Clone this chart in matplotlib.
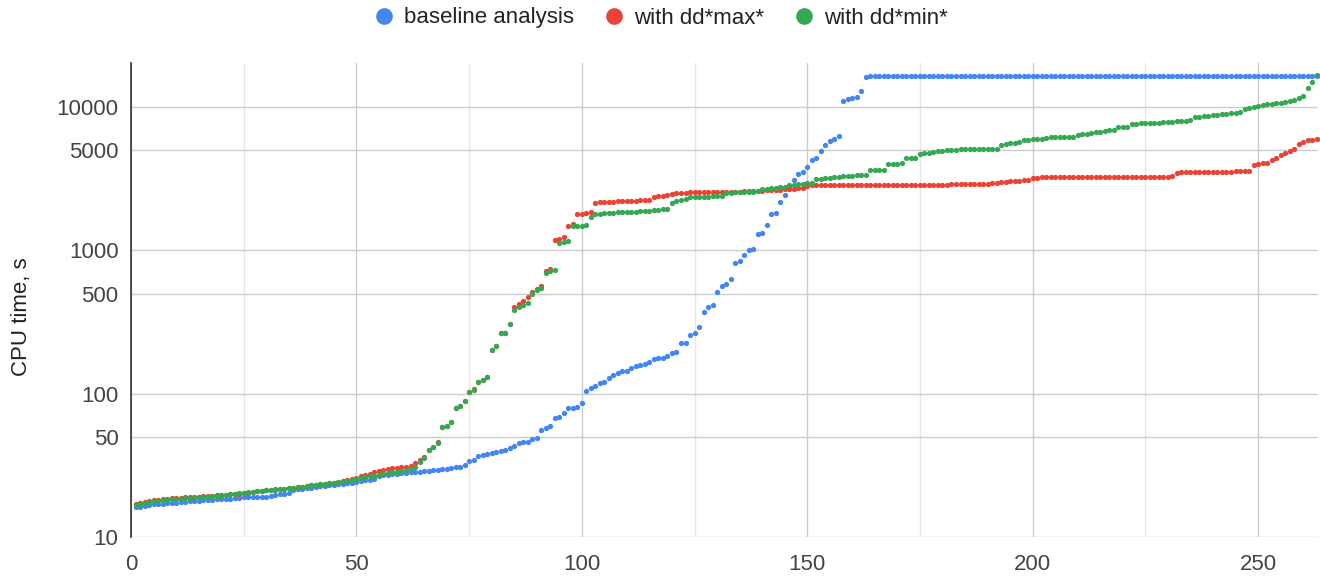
import matplotlib
matplotlib.use("Agg")
import matplotlib.pyplot as plt
from matplotlib.lines import Line2D
from matplotlib.ticker import FixedLocator, NullLocator

plt.rcParams['font.family'] = ['Liberation Sans', 'DejaVu Sans']

# CPU time (s) per instance, sorted, one list per configuration
baseline = [
    16.1, 16.3, 16.5, 16.7, 16.9, 17.0, 17.1, 17.2, 17.3, 17.4,
    17.5, 17.6, 17.7, 17.8, 17.9, 18.0, 18.1, 18.2, 18.3, 18.3,
    18.4, 18.5, 18.6, 18.7, 18.9, 18.9, 19.0, 19.0, 19.1, 19.1,
    19.3, 19.5, 19.8, 20.0, 20.2, 21.3, 21.5, 21.7, 21.9, 22.1,
    22.3, 22.6, 22.8, 23.0, 23.1, 23.3, 23.5, 23.7, 23.9, 24.2,
    24.5, 24.8, 25.1, 25.5, 26.5, 27.0, 27.2, 27.4, 27.6, 27.8,
    28.0, 28.2, 28.4, 28.6, 28.8, 29.0, 29.2, 29.4, 29.6, 29.9,
    30.2, 30.6, 31.0, 31.7, 33.9, 34.4, 36.7, 37.3, 38.0, 38.8,
    39.3, 39.8, 40.4, 41.6, 43.4, 45.1, 45.8, 46.2, 48.1, 49.3,
    55.8, 57.3, 59.5, 67.3, 69.1, 73.0, 79.0, 79.5, 81.0, 86.5,
    105, 109, 114, 118, 121, 128, 135, 140, 143, 145,
    150, 156, 158, 161, 167, 174, 177, 178, 183, 191,
    196, 225, 227, 257, 264, 294, 374, 405, 416, 511,
    564, 580, 627, 820, 844, 929, 1007, 1019, 1294, 1324,
    1503, 1795, 1833, 2190, 2450, 2750, 3100, 3400, 3540, 3840,
    4270, 4430, 4970, 5450, 5830, 5970, 6300, 11100, 11400, 11520,
    11700, 13000, 16100, 16500, 16500, 16500, 16500, 16500, 16500, 16500,
    16500, 16500, 16500, 16500, 16500, 16500, 16500, 16500, 16500, 16500,
    16500, 16500, 16500, 16500, 16500, 16500, 16500, 16500, 16500, 16500,
    16500, 16500, 16500, 16500, 16500, 16500, 16500, 16500, 16500, 16500,
    16500, 16500, 16500, 16500, 16500, 16500, 16500, 16500, 16500, 16500,
    16500, 16500, 16500, 16500, 16500, 16500, 16500, 16500, 16500, 16500,
    16500, 16500, 16500, 16500, 16500, 16500, 16500, 16500, 16500, 16500,
    16500, 16500, 16500, 16500, 16500, 16500, 16500, 16500, 16500, 16500,
    16500, 16500, 16500, 16500, 16500, 16500, 16500, 16500, 16500, 16500,
    16500, 16500, 16500, 16500, 16500, 16500, 16500, 16500, 16500, 16500,
    16500, 16500, 16500,
]

dd_max = [
    17.0, 17.3, 17.6, 17.8, 18.0, 18.2, 18.4, 18.5, 18.6, 18.7,
    18.8, 18.9, 19.0, 19.0, 19.1, 19.2, 19.3, 19.4, 19.5, 19.6,
    19.7, 19.8, 19.9, 20.0, 20.2, 20.4, 20.6, 20.8, 21.0, 21.2,
    21.4, 21.5, 21.6, 21.7, 21.8, 22.0, 22.2, 22.4, 22.7, 23.0,
    23.2, 23.4, 23.6, 23.8, 24.0, 24.3, 24.7, 25.1, 25.5, 26.0,
    26.6, 27.1, 27.6, 28.2, 28.8, 29.4, 29.8, 30.1, 30.4, 30.7,
    31.0, 31.5, 32.7, 34.4, 36.0, 40.4, 42.7, 46.2, 58.9, 59.6,
    63.8, 79.0, 82.0, 89.0, 103, 107, 121, 125, 130, 202,
    215, 264, 267, 306, 400, 420, 440, 470, 510, 540,
    560, 720, 745, 1180, 1200, 1230, 1480, 1520, 1780, 1800,
    1820, 1850, 2150, 2160, 2170, 2180, 2190, 2200, 2200, 2210,
    2210, 2220, 2230, 2240, 2250, 2350, 2380, 2410, 2440, 2480,
    2500, 2530, 2530, 2540, 2540, 2540, 2550, 2550, 2550, 2560,
    2560, 2560, 2570, 2570, 2570, 2580, 2580, 2590, 2600, 2610,
    2620, 2630, 2640, 2650, 2660, 2680, 2690, 2710, 2720, 2800,
    2840, 2850, 2850, 2850, 2860, 2860, 2860, 2860, 2860, 2860,
    2860, 2860, 2860, 2865, 2865, 2865, 2870, 2870, 2870, 2870,
    2870, 2870, 2875, 2875, 2875, 2875, 2880, 2880, 2880, 2880,
    2880, 2885, 2885, 2885, 2890, 2890, 2890, 2900, 2900, 2920,
    2950, 2970, 2990, 3010, 3030, 3050, 3070, 3090, 3100, 3200,
    3220, 3230, 3230, 3240, 3240, 3240, 3240, 3240, 3240, 3240,
    3240, 3240, 3240, 3245, 3245, 3245, 3245, 3250, 3250, 3250,
    3250, 3250, 3250, 3255, 3255, 3255, 3255, 3260, 3260, 3260,
    3300, 3450, 3540, 3540, 3540, 3540, 3540, 3540, 3540, 3550,
    3550, 3550, 3550, 3550, 3560, 3560, 3560, 3580, 3950, 4000,
    4060, 4080, 4270, 4390, 4630, 4800, 4950, 5080, 5500, 5740,
    5850, 5920, 5960,
]

dd_min = [
    16.8, 17.0, 17.3, 17.5, 17.7, 17.9, 18.0, 18.2, 18.3, 18.4,
    18.5, 18.6, 18.7, 18.8, 18.9, 19.0, 19.1, 19.2, 19.3, 19.4,
    19.6, 19.8, 20.0, 20.2, 20.4, 20.5, 20.6, 20.8, 21.0, 21.2,
    21.3, 21.4, 21.5, 21.7, 21.9, 22.1, 22.3, 22.5, 22.7, 22.9,
    23.1, 23.3, 23.5, 23.7, 23.9, 24.1, 24.4, 24.7, 25.0, 25.3,
    25.7, 26.1, 26.5, 26.8, 27.1, 27.5, 27.9, 28.2, 28.6, 29.0,
    29.4, 30.0, 30.9, 33.5, 35.4, 40.4, 42.7, 45.5, 58.9, 59.6,
    63.8, 79.0, 82.0, 89.0, 103, 106, 121, 125, 130, 202,
    215, 264, 267, 306, 384, 400, 415, 428, 500, 530,
    550, 700, 720, 730, 1120, 1150, 1170, 1470, 1480, 1490,
    1500, 1720, 1780, 1800, 1820, 1830, 1830, 1840, 1840, 1850,
    1850, 1860, 1870, 1880, 1890, 1900, 1910, 1930, 1950, 2140,
    2200, 2260, 2300, 2340, 2360, 2365, 2370, 2375, 2380, 2385,
    2390, 2520, 2530, 2540, 2545, 2550, 2560, 2570, 2580, 2670,
    2690, 2720, 2740, 2770, 2790, 2860, 2880, 2900, 2920, 2940,
    2960, 3130, 3160, 3190, 3220, 3250, 3270, 3290, 3310, 3330,
    3350, 3360, 3370, 3640, 3640, 3650, 3660, 4010, 4020, 4030,
    4040, 4390, 4400, 4410, 4710, 4750, 4800, 4850, 4900, 4950,
    4980, 5020, 5050, 5060, 5070, 5080, 5080, 5090, 5100, 5100,
    5110, 5120, 5430, 5500, 5580, 5650, 5740, 5890, 5920, 5950,
    5980, 6010, 6050, 6150, 6150, 6150, 6160, 6160, 6170, 6380,
    6450, 6520, 6600, 6680, 6750, 6820, 6880, 6920, 7290, 7300,
    7310, 7620, 7650, 7680, 7700, 7730, 7760, 7790, 7820, 7850,
    7900, 7950, 8000, 8050, 8130, 8510, 8570, 8640, 8700, 8760,
    8830, 8900, 8970, 9050, 9130, 9290, 9660, 9800, 10070, 10200,
    10350, 10450, 10550, 10650, 10740, 10900, 11000, 11200, 11600, 11930,
    13670, 15070, 16740,
]

series_names = ["baseline analysis", "with dd*max*", "with dd*min*"]
series_colors = ["#4285F4", "#EA4335", "#34A853"]
y_ticks = [10, 50, 100, 500, 1000, 5000, 10000]
x_ticks = [0, 50, 100, 150, 200, 250]
x_minor = [25, 75, 125, 175, 225]

W, H = 1320, 584
fig = plt.figure(figsize=(W / 100, H / 100), dpi=100)
ax = fig.add_axes([131 / W, 47 / H, (1318 - 131) / W, (537 - 63) / H])

for vals, col in zip([baseline, dd_max, dd_min], series_colors):
    xs = list(range(1, len(vals) + 1))
    ax.plot(xs, vals, linestyle="none", marker="o", markersize=3.8,
            markeredgewidth=0, color=col, clip_on=False, zorder=3)

ax.set_yscale("log")
ax.set_ylim(10, 20300)
ax.set_xlim(0, 263.3)
ax.yaxis.set_major_locator(FixedLocator(y_ticks))
ax.yaxis.set_minor_locator(NullLocator())
ax.set_yticklabels([str(t) for t in y_ticks])
ax.set_xticks(x_ticks)
ax.set_xticks(x_minor, minor=True)

ax.grid(True, which="major", color="#cccccc", linewidth=1, zorder=0)
ax.grid(True, which="minor", axis="x", color="#e6e6e6", linewidth=1, zorder=0)
ax.set_axisbelow(True)

ax.tick_params(axis="both", which="both", length=0, labelsize=16,
               labelcolor="#444444")
ax.tick_params(axis="y", pad=9)
ax.tick_params(axis="x", pad=12)

for s in ["top", "right", "bottom"]:
    ax.spines[s].set_visible(False)
ax.spines["left"].set_color("#333333")
ax.spines["left"].set_linewidth(1.2)

ax.set_ylabel("CPU time, s", fontsize=16, color="#222222")
ax.yaxis.set_label_coords(-0.083, 0.464)

handles = [Line2D([], [], linestyle="none", marker="o", markersize=12,
                  markeredgewidth=0, color=c) for c in series_colors]
fig.legend(handles, series_names, loc="center", bbox_to_anchor=(0.5, 1 - 18 / H),
           ncol=3, frameon=False, fontsize=16, handlelength=1.0,
           handletextpad=0.4, columnspacing=1.3, labelcolor="#222222")

fig.savefig("out.png", dpi=100)
